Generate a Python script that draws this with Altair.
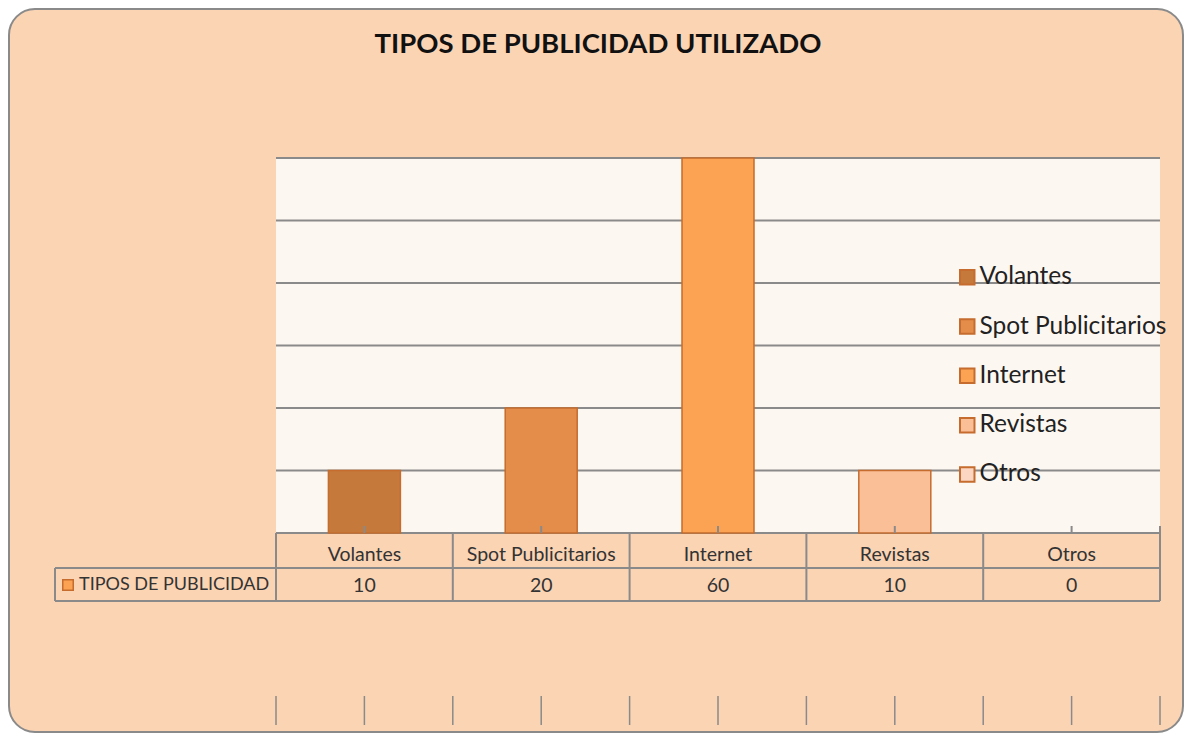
import altair as alt
import pandas as pd

# ---- data ----
categories = ["Volantes", "Spot Publicitarios", "Internet", "Revistas", "Otros"]
values = [10, 20, 60, 10, 0]
bar_colors = ["#C5793A", "#E48D4B", "#FBA253", "#FBBF98", "#FDD6C3"]
grid_values = [0, 10, 20, 30, 40, 50, 60]
row_label = "TIPOS DE PUBLICIDAD"
chart_title = "TIPOS DE PUBLICIDAD UTILIZADO"

df = pd.DataFrame({"cat": categories, "val": values})
grid_df = pd.DataFrame({"g": grid_values})
one = pd.DataFrame({"k": [0]})

FONT = "Lato"
GRAY = "#8A8A8A"
PEACH = "#FBD4B4"
CREAM = "#FDF7F1"
EDGE = "#C56C2E"
W, H = 884, 375

xscale = alt.Scale(domain=categories, paddingInner=0, paddingOuter=0)
yscale = alt.Scale(domain=[0, 60], nice=False)


def xc(band=0.5):
    return alt.X("cat:N", scale=xscale, axis=None, sort=categories, bandPosition=band)


base = alt.Chart(df)

frame = alt.Chart(one).mark_rect(
    cornerRadius=26, fill=PEACH, stroke=GRAY, strokeWidth=2
).encode(x=alt.value(-267), x2=alt.value(907), y=alt.value(-149), y2=alt.value(574))

plot_bg = alt.Chart(one).mark_rect(fill=CREAM).encode(
    x=alt.value(0), x2=alt.value(W), y=alt.value(0), y2=alt.value(H)
)

grid = alt.Chart(grid_df).mark_rule(color=GRAY, strokeWidth=2).encode(
    y=alt.Y("g:Q", scale=yscale, axis=None), x=alt.value(0), x2=alt.value(W)
)

bars = base.transform_filter("datum.val > 0").mark_bar(
    size=72, stroke=EDGE, strokeWidth=1.5
).encode(
    x=xc(),
    y=alt.Y("val:Q", scale=yscale, axis=None),
    color=alt.Color(
        "cat:N",
        sort=categories,
        scale=alt.Scale(domain=categories, range=bar_colors),
        legend=alt.Legend(
            title=None,
            orient="none",
            legendX=679,
            legendY=107,
            padding=0,
            symbolType="square",
            symbolSize=210,
            symbolStrokeColor=EDGE,
            symbolStrokeWidth=2,
            symbolOpacity=1,
            labelFont=FONT,
            labelFontSize=24.5,
            labelColor="#222222",
            labelLimit=400,
            labelOffset=0,
            rowPadding=24.3,
        ),
    ),
)

# axis ticks at band centres (pointing up)
ticks = base.mark_rule(color=GRAY, strokeWidth=2).encode(
    x=xc(0.5), y=alt.value(H - 7), y2=alt.value(H)
)

# table vertical lines
vlines = base.mark_rule(color=GRAY, strokeWidth=2).encode(
    x=xc(0), y=alt.value(H), y2=alt.value(H + 68)
)
vend = base.transform_filter(alt.datum.cat == categories[-1]).mark_rule(
    color=GRAY, strokeWidth=2
).encode(x=xc(1), y=alt.value(H - 7), y2=alt.value(H + 68))

# table horizontal lines + left edge of row header
h1 = alt.Chart(one).mark_rule(color=GRAY, strokeWidth=2).encode(
    x=alt.value(-221), x2=alt.value(W), y=alt.value(H + 35)
)
h2 = alt.Chart(one).mark_rule(color=GRAY, strokeWidth=2).encode(
    x=alt.value(-221), x2=alt.value(W), y=alt.value(H + 68)
)
vleft = alt.Chart(one).mark_rule(color=GRAY, strokeWidth=2).encode(
    x=alt.value(-221), y=alt.value(H + 35), y2=alt.value(H + 68)
)

cat_text = base.mark_text(font=FONT, fontSize=19.5, color="#333333", baseline="middle").encode(
    x=xc(0.5), y=alt.value(H + 22), text="cat:N"
)
val_text = base.mark_text(font=FONT, fontSize=19.5, color="#333333", baseline="middle").encode(
    x=xc(0.5), y=alt.value(H + 53), text="val:Q"
)

row_sym = alt.Chart(one).mark_point(
    shape="square", filled=True, fill="#FBA253", stroke=EDGE, strokeWidth=1.5, size=110, opacity=1
).encode(x=alt.value(-208), y=alt.value(H + 52))
row_text = alt.Chart(one).mark_text(
    text=row_label, font=FONT, fontSize=18, color="#333333", align="left", baseline="middle"
).encode(x=alt.value(-197), y=alt.value(H + 52))

# faint tick marks near the bottom of the frame
bt_a = base.mark_rule(color=GRAY, strokeWidth=1.5).encode(
    x=xc(0), y=alt.value(H + 163), y2=alt.value(H + 192)
)
bt_b = base.mark_rule(color=GRAY, strokeWidth=1.5).encode(
    x=xc(0.5), y=alt.value(H + 163), y2=alt.value(H + 192)
)
bt_c = base.transform_filter(alt.datum.cat == categories[-1]).mark_rule(
    color=GRAY, strokeWidth=1.5
).encode(x=xc(1), y=alt.value(H + 163), y2=alt.value(H + 192))

title = alt.Chart(one).mark_text(
    text=chart_title, font=FONT, fontSize=27.5, fontWeight="bold", color="#111111",
    align="center", baseline="middle",
).encode(x=alt.value(322), y=alt.value(-113))

chart = alt.layer(
    frame, plot_bg, grid, bars, ticks, vlines, vend, h1, h2, vleft,
    cat_text, val_text, row_sym, row_text, bt_a, bt_b, bt_c, title,
).properties(
    width=W,
    height=H,
    padding={"left": 268, "top": 150, "right": 24, "bottom": 202},
    autosize=alt.AutoSizeParams(type="none"),
    background="white",
).configure_view(strokeWidth=0, fill=None)

chart.save("out.html", embed_options={"renderer": "svg", "actions": False})
